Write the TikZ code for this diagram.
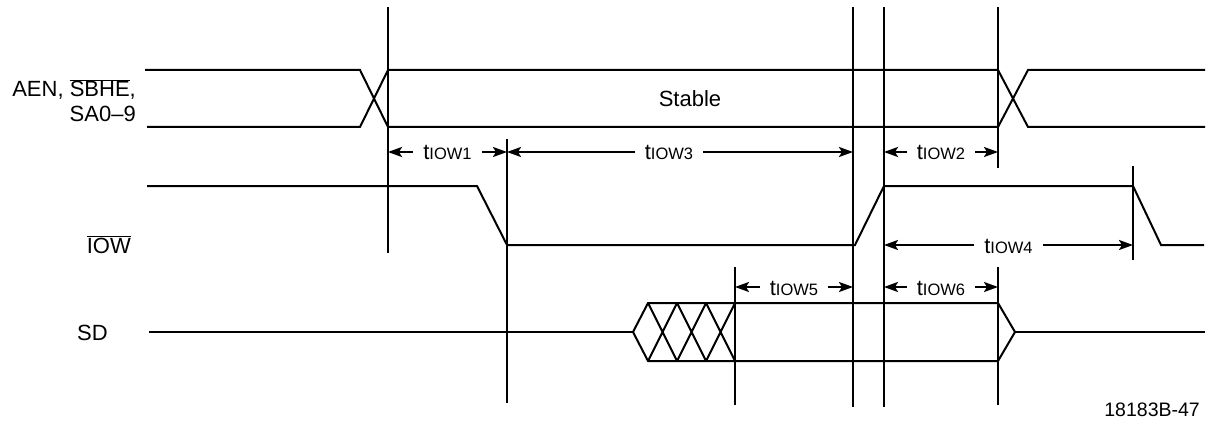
\documentclass[tikz,border=0pt]{standalone}
\usepackage{fontspec}
\setmainfont{Liberation Sans}
\usetikzlibrary{arrows.meta}
\begin{document}
\begin{tikzpicture}[x=1pt,y=-1pt,
  sig/.style={line width=2pt, line join=miter},
  vline/.style={line width=2pt},
  dim/.style={line width=2.2pt, {Stealth[length=14pt,width=10pt,inset=3pt]}-{Stealth[length=14pt,width=10pt,inset=3pt]}},
  lbl/.style={font=\fontsize{22}{24}\selectfont, inner sep=0pt},
  tlab/.style={fill=white, inner xsep=10pt, inner ysep=1pt, anchor=base, font=\fontsize{22}{24}\selectfont}]
\useasboundingbox (0,0) rectangle (1210,425);
\newcommand{\tsub}[1]{t{\fontsize{16.5}{18}\selectfont IOW#1}}
% vertical reference lines
\coordinate (vA) at (388,0);
\coordinate (vB) at (507,0);
\coordinate (vC) at (735,0);
\coordinate (vD) at (853,0);
\coordinate (vE) at (884,0);
\coordinate (vF) at (998,0);
\coordinate (vG) at (1133,0);
\draw[vline] (388,7) -- (388,253);
\draw[vline] (507,139) -- (507,403);
\draw[vline] (735,267) -- (735,405);
\draw[vline] (853,7) -- (853,407);
\draw[vline] (884,7) -- (884,407);
\draw[vline] (998,7) -- (998,168);
\draw[vline] (998,267) -- (998,405);
\draw[vline] (1133,166) -- (1133,260);
% address bus
\draw[sig] (145,70) -- (360,70) -- (388,127) -- (998,127) -- (1028,70) -- (1205,70);
\draw[sig] (147,127) -- (360,127) -- (388,70) -- (998,70) -- (1028,127) -- (1205,127);
% IOW
\draw[sig] (147,186) -- (477,186) -- (507,245) -- (855,245) -- (884,186) -- (1133,186) -- (1161,245) -- (1204,245);
% SD
\draw[sig] (149,332) -- (633,332);
\draw[sig] (633,332) -- (648,303) -- (998,303) -- (1015,332) -- (998,361) -- (648,361) -- cycle;
\draw[sig] (1015,332) -- (1205,332);
\foreach \a in {648,677,706} {
  \draw[sig] (\a,303) -- ({\a+29},361) (\a,361) -- ({\a+29},303);
}
% dimension arrows
\draw[dim] (vA |- 0,152) -- (vB |- 0,152);
\node[tlab] (t1) at (447.5,160) {\tsub{1}};
\draw[dim] (vB |- 0,152) -- (vD |- 0,152);
\node[tlab] (t3) at (669,160) {\tsub{3}};
\draw[dim] (vE |- 0,152) -- (vF |- 0,152);
\node[tlab] (t2) at (941,160) {\tsub{2}};
\draw[dim] (vE |- 0,245) -- (vG |- 0,245);
\node[tlab] (t4) at (1008.5,253) {\tsub{4}};
\draw[dim] (vC |- 0,287) -- (vD |- 0,287);
\node[tlab] (t5) at (794,295) {\tsub{5}};
\draw[dim] (vE |- 0,287) -- (vF |- 0,287);
\node[tlab] (t6) at (941,295) {\tsub{6}};
% labels
\node[lbl, anchor=base east] (aen) at (136,96.7) {AEN, $\overline{\mbox{SBHE}}$,};
\node[lbl, anchor=base east] (sa) at (136,121.7) {SA0–9};
\node[lbl, anchor=base] (stable) at (690,107) {Stable};
\node[lbl, anchor=base east] (iow) at (131,253) {$\overline{\mbox{IOW}}$};
\node[lbl, anchor=base east] (sd) at (108,340) {SD};
\node[font=\fontsize{19.5}{21}\selectfont, inner sep=0pt, anchor=base east] (fig) at (1200,416.7) {18183B-47};
\end{tikzpicture}
\end{document}
